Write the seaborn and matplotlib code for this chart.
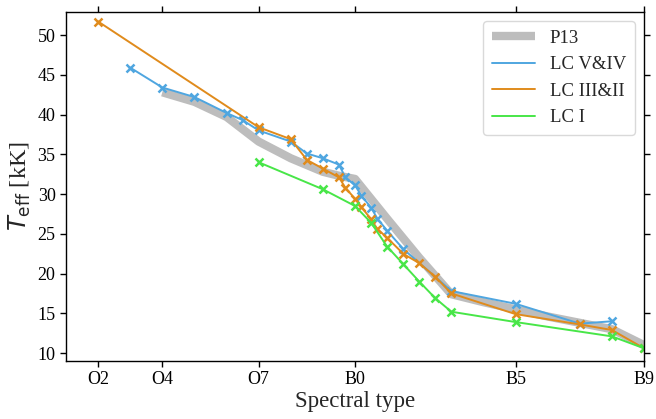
import matplotlib
matplotlib.use("Agg")
import matplotlib.pyplot as plt
from matplotlib.lines import Line2D
import seaborn as sns

# Spectral subtypes on a numeric scale: O0 = 0 ... O9 = 9, B0 = 10 ... B9 = 19
tick_pos = [2, 4, 7, 10, 15, 19]
tick_labels = ["O2", "O4", "O7", "B0", "B5", "B9"]

# Calibration of Pecaut & Mamajek (2013)
p13_sp = [4, 5, 6, 7, 8, 9, 9.5, 10, 11, 12, 13, 14, 15, 16, 17, 18, 19]
p13_teff = [42.8, 41.6, 39.7, 36.6, 34.5, 32.8, 32.3, 31.9, 26.9, 22.0, 17.4,
            16.4, 15.5, 14.6, 13.8, 13.0, 11.0]

# Luminosity class V & IV
lc5_sp = [3, 4, 5, 6, 6.5, 7, 8, 8.5, 9, 9.5, 9.7, 10, 10.2, 10.5, 10.7, 11,
          11.5, 13, 15, 17, 18]
lc5_teff = [45.9, 43.4, 42.2, 40.2, 39.3, 38.0, 36.6, 35.1, 34.5, 33.7, 32.1,
            31.1, 29.8, 28.3, 26.9, 25.4, 23.1, 17.8, 16.2, 13.7, 14.0]

# Luminosity class III & II
lc3_sp = [2, 7, 8, 8.5, 9, 9.5, 9.7, 10, 10.2, 10.5, 10.7, 11, 11.5, 12, 12.5,
          13, 15, 17, 18, 19]
lc3_teff = [51.7, 38.4, 36.9, 34.3, 33.2, 32.1, 30.8, 29.4, 28.4, 26.8, 25.6,
            24.5, 22.5, 21.3, 19.6, 17.5, 14.9, 13.6, 12.9, 10.6]

# Luminosity class I
lc1_sp = [7, 9, 10, 10.5, 11, 11.5, 12, 12.5, 13, 15, 18, 19]
lc1_teff = [34.0, 30.6, 28.5, 26.4, 23.4, 21.2, 19.0, 16.9, 15.2, 13.9, 12.1, 10.6]

gray = "#bdbdbd"
blue = "#4fa6e0"
orange = "#e08b1c"
green = "#48e648"

sns.set_style("ticks")
plt.rcParams["font.family"] = ["Liberation Serif", "DejaVu Serif"]
plt.rcParams["mathtext.fontset"] = "dejavusans"

fig, ax = plt.subplots(figsize=(6.56, 4.19), dpi=100)
fig.subplots_adjust(left=0.1006, right=0.9817, top=0.9714, bottom=0.1384)

sns.lineplot(x=p13_sp, y=p13_teff, ax=ax, color=gray, lw=6,
             solid_capstyle="butt", legend=False)

mk = dict(marker="x", markersize=6, markeredgewidth=1.8, lw=1.4, legend=False)
sns.lineplot(x=lc5_sp, y=lc5_teff, ax=ax, color=blue, markeredgecolor=blue, **mk)
sns.lineplot(x=lc3_sp, y=lc3_teff, ax=ax, color=orange, markeredgecolor=orange, **mk)
sns.lineplot(x=lc1_sp, y=lc1_teff, ax=ax, color=green, markeredgecolor=green, **mk)

ax.set_xlim(1.0, 19.0)
ax.set_ylim(9.0, 52.9)
ax.set_xticks(tick_pos)
ax.set_xticklabels(tick_labels)
ax.set_yticks(range(10, 51, 5))
ax.tick_params(axis="both", direction="out", top=True, right=True,
               labelsize=13, length=4, width=1, colors="black")
for s in ax.spines.values():
    s.set_visible(True)
    s.set_linewidth(1.0)
    s.set_color("black")

ax.set_xlabel("Spectral type", fontsize=16.5, labelpad=2)
ax.set_ylabel(r"$T_\mathrm{eff}$ [kK]", fontsize=17.5, labelpad=3)

handles = [
    Line2D([], [], color=gray, lw=6, solid_capstyle="butt"),
    Line2D([], [], color=blue, lw=1.4),
    Line2D([], [], color=orange, lw=1.4),
    Line2D([], [], color=green, lw=1.4),
]
leg = ax.legend(handles, ["P13", "LC V&IV", "LC III&II", "LC I"],
                loc="upper right", fontsize=13.5, frameon=True,
                handlelength=2.3, borderpad=0.45, labelspacing=0.5,
                handletextpad=0.8)
leg.get_frame().set_edgecolor("#d0d0d0")
leg.get_frame().set_linewidth(1.0)

fig.savefig("out.png", dpi=100)
